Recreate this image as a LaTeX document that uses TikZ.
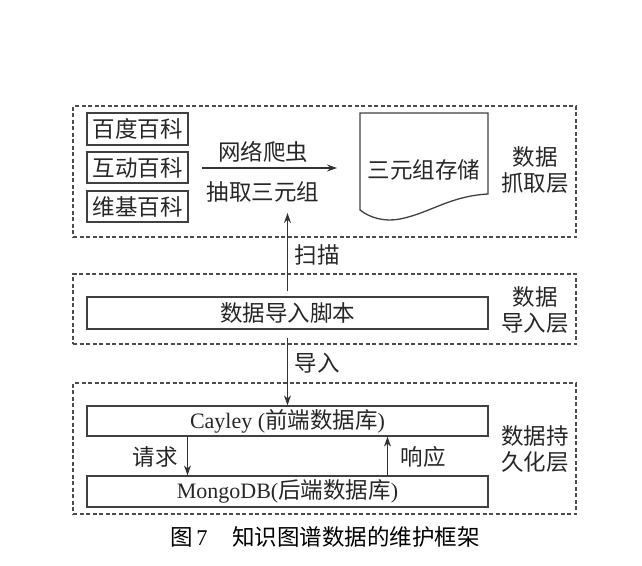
\documentclass[tikz,border=0pt]{standalone}
\usepackage{fontspec}
\setmainfont{Liberation Serif}
\newfontfamily\cjk{Noto Sans CJK SC}
\usetikzlibrary{arrows.meta,positioning}

\begin{document}
\begin{tikzpicture}[x=1pt,y=-1pt,{box/.style={rectangle,draw=black!75,line width=1.3pt,inner sep=0pt,text=black!85,font=\cjk\fontsize{22.5}{25}\selectfont}},{layer/.style={rectangle,draw=black!70,line width=1.1pt,dash pattern=on 4pt off 2.5pt,inner sep=0pt}},{lbl/.style={inner sep=0pt,text=black!85,align=center,font=\cjk\fontsize{22.5}{26}\selectfont}},{arr/.style={-{Stealth[length=10pt,width=7pt]},line width=1.1pt,draw=black!80}}]
		\useasboundingbox (0,0) rectangle (642,565);
		%%layers
		\node at (324.5,171.5) [layer,minimum width=503pt,minimum height=131pt] (fetch) {};
		\node at (324.5,309) [layer,minimum width=503pt,minimum height=70pt] (load) {};
		\node at (324.5,448.5) [layer,minimum width=503pt,minimum height=131pt] (keep) {};
		\node at (535,170) [lbl] (fetchlbl) {数据\\抓取层};
		\node at (535,310.5) [lbl] (loadlbl) {数据\\导入层};
		\node at (535,449.5) [lbl] (keeplbl) {数据持\\久化层};

		%%sources
		\node at (137.5,129) [box,minimum width=101pt,minimum height=32pt] (baidu) {百度百科};
		\node at (137.5,167.5) [box,minimum width=101pt,minimum height=31pt] (hudong) {互动百科};
		\node at (137.5,206.5) [box,minimum width=101pt,minimum height=31pt] (wiki) {维基百科};

		%%triple store
		\node at (424,170) [lbl] (store) {三元组存储};
		\draw [draw=black!75,line width=1.3pt] (360,113) -- (488,113) -- (488,194)
			.. controls (450,196) and (430,213) .. (400,219)
			.. controls (385,222) and (370,218) .. (360,210) -- cycle;

		%%crawler
		\coordinate (crawlS) at (202,168);
		\coordinate (crawlE) at (337,168);
		\draw [arr] (crawlS) -- (crawlE);
		\node at (263,152) [lbl] (crawl) {网络爬虫};
		\node at (263,192) [lbl] (extract) {抽取三元组};

		%%import script
		\node at (287.5,313) [box,minimum width=401pt,minimum height=32pt] (script) {数据导入脚本};
		\coordinate (scanE) at (287.5,213);
		\draw [arr,shorten <=5pt] (script.north) -- (scanE);
		\node at (317,255) [lbl] (scan) {扫描};

		%%databases
		\node at (287.5,421) [box,minimum width=401pt,minimum height=30pt,font=\fontsize{22}{25}\selectfont] (cayley) {Cayley ({\cjk\fontsize{22.5}{25}\selectfont 前端数据库})};
		\node at (287.5,491.5) [box,minimum width=401pt,minimum height=31pt,font=\fontsize{22}{25}\selectfont] (mongo) {MongoDB({\cjk\fontsize{22.5}{25}\selectfont 后端数据库})};
		\draw [arr,shorten <=8pt] (script.south) -- (cayley.north);
		\node at (317,363) [lbl] (import) {导入};
		\draw [arr] ([xshift=-100pt]cayley.south) -- ([xshift=-100pt]mongo.north);
		\node at (155,457) [lbl] (request) {请求};
		\draw [arr] ([xshift=100pt]mongo.north) -- ([xshift=100pt]cayley.south);
		\node at (423,457) [lbl] (answer) {响应};

		%%caption
		\node at (325,537) [lbl,text=black] (caption) {图\,{\rmfamily 7}\hspace{1.1em}知识图谱数据的维护框架};
	\end{tikzpicture}
\end{document}
